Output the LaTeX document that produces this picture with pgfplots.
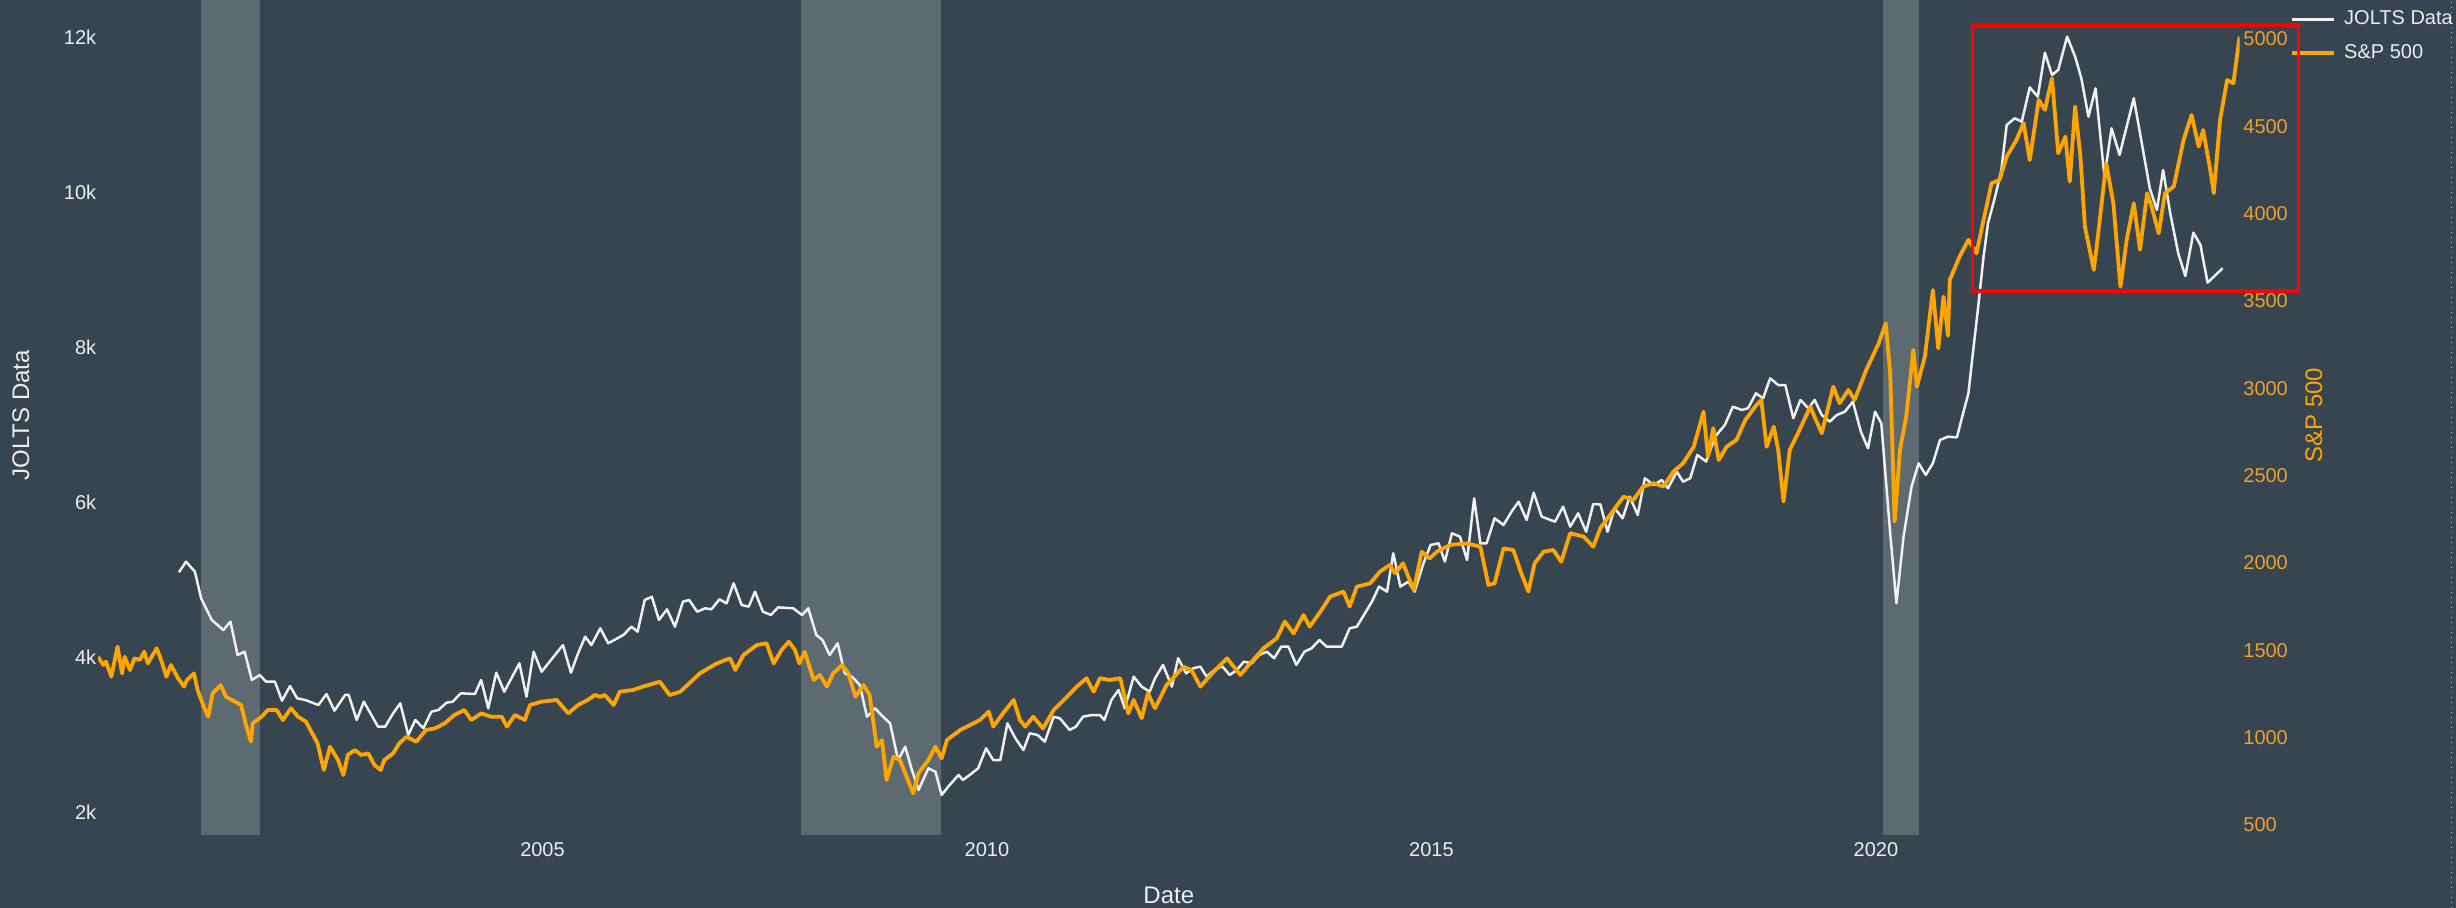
\documentclass[border=0pt]{standalone}
\usepackage{fontspec}
\setmainfont{Liberation Sans}
\usepackage{pgfplots}
\pgfplotsset{compat=1.18}
\usepackage{pgfplotstable}

\definecolor{bg}{RGB}{54,69,79}
\definecolor{rec}{RGB}{94,106,114}
\definecolor{joltsc}{RGB}{240,240,240}
\definecolor{spc}{RGB}{255,165,0}
\definecolor{sptick}{RGB}{236,160,40}
\definecolor{txt}{RGB}{235,238,242}
\definecolor{dotc}{RGB}{140,190,225}
\definecolor{redbox}{RGB}{255,0,0}

\pgfplotstableread{
year value
2000.91 5099
2000.99 5236
2001.09 5107
2001.16 4763
2001.28 4483
2001.41 4354
2001.49 4462
2001.57 4031
2001.65 4074
2001.73 3709
2001.82 3773
2001.89 3687
2001.99 3687
2002.07 3442
2002.16 3631
2002.24 3473
2002.33 3451
2002.48 3386
2002.57 3528
2002.66 3313
2002.78 3516
2002.82 3516
2002.91 3193
2002.99 3429
2003.15 3106
2003.23 3106
2003.32 3279
2003.40 3408
2003.49 2999
2003.57 3193
2003.66 3085
2003.75 3300
2003.83 3322
2003.92 3416
2003.99 3429
2004.08 3537
2004.24 3528
2004.31 3709
2004.39 3343
2004.48 3803
2004.57 3558
2004.74 3924
2004.82 3493
2004.90 4074
2004.99 3816
2005.08 3945
2005.23 4160
2005.32 3803
2005.40 4052
2005.48 4268
2005.55 4160
2005.65 4376
2005.74 4182
2005.91 4290
2006.00 4397
2006.07 4333
2006.15 4741
2006.23 4784
2006.31 4483
2006.40 4621
2006.49 4397
2006.58 4720
2006.65 4741
2006.74 4590
2006.83 4634
2006.90 4621
2006.99 4750
2007.07 4698
2007.15 4957
2007.24 4677
2007.32 4655
2007.39 4849
2007.48 4590
2007.57 4548
2007.65 4646
2007.82 4634
2007.92 4548
2007.99 4634
2008.08 4290
2008.15 4225
2008.23 4031
2008.32 4182
2008.40 3795
2008.48 3752
2008.57 3644
2008.65 3235
2008.74 3343
2008.83 3235
2008.91 3150
2009.00 2676
2009.08 2848
2009.15 2569
2009.23 2289
2009.34 2569
2009.42 2525
2009.49 2225
2009.58 2354
2009.68 2483
2009.73 2418
2009.83 2505
2009.90 2569
2009.99 2827
2010.07 2676
2010.15 2676
2010.23 3150
2010.32 2956
2010.41 2805
2010.48 3021
2010.57 2999
2010.65 2913
2010.75 3235
2010.82 3214
2010.93 3064
2011.00 3106
2011.08 3235
2011.18 3257
2011.27 3257
2011.32 3193
2011.40 3451
2011.48 3580
2011.55 3343
2011.65 3752
2011.74 3623
2011.83 3558
2011.89 3731
2011.98 3903
2012.08 3623
2012.15 3989
2012.24 3795
2012.32 3860
2012.40 3881
2012.47 3752
2012.58 3860
2012.65 3881
2012.73 3773
2012.81 3838
2012.89 3945
2012.98 3924
2013.06 4031
2013.15 4074
2013.23 3989
2013.31 4139
2013.39 4139
2013.48 3903
2013.57 4074
2013.65 4117
2013.74 4225
2013.82 4139
2013.99 4139
2014.08 4376
2014.16 4397
2014.24 4548
2014.33 4720
2014.41 4914
2014.50 4849
2014.57 5344
2014.65 4914
2014.74 4978
2014.81 4849
2014.91 5215
2014.99 5451
2015.08 5473
2015.15 5236
2015.23 5602
2015.32 5559
2015.40 5257
2015.48 6054
2015.55 5473
2015.62 5473
2015.71 5796
2015.81 5709
2015.90 5881
2015.98 6010
2016.07 5774
2016.15 6127
2016.24 5817
2016.39 5752
2016.48 5946
2016.56 5688
2016.65 5860
2016.74 5623
2016.82 5980
2016.90 5975
2016.98 5623
2017.06 5925
2017.15 5796
2017.23 6075
2017.32 5838
2017.40 6312
2017.50 6226
2017.59 6290
2017.66 6183
2017.76 6397
2017.83 6268
2017.91 6312
2017.99 6613
2018.09 6527
2018.19 6849
2018.30 7000
2018.39 7236
2018.49 7194
2018.56 7215
2018.65 7409
2018.73 7344
2018.81 7603
2018.90 7516
2018.98 7516
2019.07 7087
2019.15 7323
2019.24 7215
2019.31 7323
2019.39 7129
2019.48 7043
2019.56 7129
2019.65 7172
2019.74 7301
2019.83 6914
2019.91 6699
2019.99 7172
2020.06 7022
2020.16 5602
2020.23 4699
2020.31 5559
2020.40 6204
2020.48 6506
2020.56 6355
2020.64 6506
2020.72 6806
2020.81 6849
2020.91 6840
2020.98 7151
2021.04 7409
2021.09 7925
2021.15 8527
2021.21 9172
2021.26 9603
2021.34 9947
2021.41 10291
2021.47 10871
2021.56 10958
2021.64 10915
2021.73 11358
2021.82 11237
2021.90 11805
2021.98 11517
2022.05 11582
2022.15 12012
2022.24 11754
2022.31 11475
2022.39 10979
2022.47 11345
2022.57 10205
2022.65 10829
2022.74 10485
2022.90 11217
2022.99 10636
2023.08 10055
2023.16 9775
2023.23 10291
2023.31 9733
2023.40 9216
2023.48 8923
2023.57 9482
2023.65 9324
2023.73 8837
2023.90 9023
}\joltsdata

\pgfplotstableread{
year value
2000.00 1463
2000.06 1416
2000.09 1435
2000.15 1349
2000.22 1521
2000.27 1368
2000.30 1463
2000.36 1387
2000.41 1454
2000.47 1445
2000.52 1492
2000.56 1425
2000.66 1511
2000.71 1445
2000.77 1349
2000.82 1416
2000.90 1340
2000.97 1292
2001.00 1330
2001.08 1368
2001.12 1273
2001.19 1177
2001.24 1120
2001.29 1254
2001.38 1301
2001.44 1234
2001.54 1206
2001.61 1187
2001.67 1063
2001.72 977
2001.74 1082
2001.84 1120
2001.91 1158
2002.01 1158
2002.08 1101
2002.17 1168
2002.25 1120
2002.34 1091
2002.40 1034
2002.47 968
2002.54 815
2002.61 948
2002.70 872
2002.76 786
2002.81 901
2002.89 929
2002.96 901
2003.04 910
2003.11 843
2003.18 815
2003.22 872
2003.32 910
2003.39 968
2003.47 1005
2003.58 977
2003.69 1044
2003.79 1053
2003.90 1082
2004.01 1130
2004.12 1158
2004.20 1101
2004.31 1139
2004.42 1120
2004.54 1120
2004.60 1063
2004.69 1130
2004.80 1101
2004.86 1187
2004.99 1206
2005.16 1216
2005.29 1139
2005.40 1187
2005.51 1216
2005.59 1244
2005.65 1234
2005.70 1244
2005.80 1187
2005.87 1263
2006.02 1273
2006.13 1292
2006.32 1320
2006.43 1244
2006.55 1263
2006.77 1368
2006.96 1425
2007.11 1454
2007.17 1387
2007.26 1473
2007.41 1530
2007.52 1540
2007.60 1425
2007.69 1502
2007.77 1549
2007.84 1502
2007.89 1425
2007.95 1492
2008.05 1330
2008.12 1359
2008.20 1292
2008.27 1368
2008.37 1416
2008.44 1368
2008.52 1234
2008.61 1301
2008.68 1244
2008.76 948
2008.82 985
2008.87 758
2008.95 891
2009.02 872
2009.08 796
2009.17 681
2009.23 796
2009.34 872
2009.42 948
2009.49 882
2009.55 987
2009.70 1044
2009.81 1072
2009.92 1101
2010.02 1149
2010.07 1063
2010.18 1139
2010.30 1216
2010.37 1101
2010.43 1063
2010.52 1120
2010.63 1053
2010.75 1158
2010.90 1234
2011.01 1292
2011.12 1340
2011.20 1263
2011.27 1340
2011.38 1330
2011.50 1340
2011.59 1139
2011.65 1216
2011.74 1111
2011.81 1254
2011.89 1168
2012.02 1301
2012.21 1406
2012.30 1387
2012.40 1292
2012.55 1378
2012.70 1454
2012.85 1359
2012.96 1425
2013.11 1511
2013.26 1569
2013.35 1664
2013.45 1597
2013.56 1702
2013.63 1635
2013.75 1721
2013.86 1807
2014.01 1836
2014.08 1750
2014.16 1864
2014.31 1883
2014.42 1950
2014.53 1988
2014.59 1941
2014.68 1998
2014.80 1845
2014.89 2064
2014.98 2026
2015.06 2064
2015.21 2103
2015.40 2112
2015.55 2093
2015.64 1874
2015.71 1883
2015.81 2083
2015.92 2074
2016.01 1941
2016.09 1836
2016.16 1998
2016.26 2064
2016.37 2074
2016.46 2007
2016.56 2170
2016.71 2151
2016.82 2093
2016.90 2200
2017.05 2303
2017.16 2379
2017.27 2360
2017.38 2437
2017.50 2456
2017.61 2437
2017.72 2522
2017.83 2570
2017.95 2665
2018.06 2866
2018.11 2608
2018.17 2771
2018.23 2589
2018.32 2665
2018.43 2704
2018.53 2818
2018.64 2894
2018.71 2933
2018.77 2665
2018.85 2780
2018.90 2647
2018.96 2351
2019.03 2647
2019.14 2761
2019.26 2894
2019.39 2742
2019.52 3009
2019.59 2914
2019.69 2990
2019.76 2933
2019.89 3104
2020.03 3257
2020.11 3372
2020.16 3086
2020.21 2236
2020.27 2647
2020.34 2837
2020.42 3219
2020.46 3009
2020.55 3181
2020.64 3562
2020.70 3228
2020.76 3524
2020.81 3300
2020.83 3620
2020.94 3753
2021.04 3849
2021.13 3772
2021.21 3963
2021.30 4173
2021.39 4192
2021.47 4325
2021.58 4421
2021.66 4517
2021.73 4306
2021.83 4650
2021.90 4593
2021.98 4774
2022.05 4345
2022.13 4440
2022.18 4182
2022.24 4612
2022.30 4325
2022.35 3925
2022.45 3677
2022.50 3887
2022.59 4288
2022.67 4059
2022.75 3581
2022.82 3849
2022.90 4059
2022.97 3792
2023.05 4116
2023.10 4040
2023.18 3887
2023.25 4116
2023.35 4154
2023.46 4421
2023.55 4564
2023.63 4383
2023.68 4478
2023.76 4249
2023.80 4116
2023.87 4535
2023.95 4764
2024.02 4745
2024.09 5012
}\spdata

\pgfplotsset{
  basestyle/.style={
    at={(49pt,36.25pt)}, anchor=south west,
    scale only axis, width=1070.8pt, height=417.75pt,
    xmin=2000, xmax=2024.09,
    axis line style={draw=none},
    tick style={draw=none}, major tick length=0pt,
    /pgf/number format/assume math mode=true,
    tick label style={font=\fontsize{10}{12}\selectfont},
    label style={font=\fontsize{12}{14}\selectfont},
  }
}

\begin{document}
\begin{tikzpicture}
\fill[bg] (0,0) rectangle (1228pt,454pt);
\useasboundingbox (0,0) rectangle (1228pt,454pt);

\begin{axis}[basestyle,
  ymin=1702, ymax=12485,
  xtick={2005,2010,2015,2020}, xticklabels={2005,2010,2015,2020},
  xticklabel style={text=txt, anchor=north, inner sep=0pt, yshift=-3.25pt},
  ytick={2000,4000,6000,8000,10000,12000}, yticklabels={2k,4k,6k,8k,10k,12k},
  yticklabel style={text=txt, anchor=east, inner sep=0pt, xshift=-0.7pt},
  xlabel={Date}, xlabel style={at={(axis description cs:0.5,-0.0712)}, anchor=center, text=txt},
  ylabel={JOLTS Data}, ylabel style={at={(axis description cs:-0.036,0.503)}, anchor=center, text=txt},
]
\addplot[fill=rec, draw=none, forget plot] coordinates {(2001.155,1702) (2001.155,12485) (2001.826,12485) (2001.826,1702)} --cycle;
\addplot[fill=rec, draw=none, forget plot] coordinates {(2007.908,1702) (2007.908,12485) (2009.479,12485) (2009.479,1702)} --cycle;
\addplot[fill=rec, draw=none, forget plot] coordinates {(2020.075,1702) (2020.075,12485) (2020.487,12485) (2020.487,1702)} --cycle;
\addplot[joltsc, line width=1.25pt, line join=round] table[x=year,y=value]{\joltsdata};
\end{axis}

\begin{axis}[basestyle,
  ymin=440, ymax=5222,
  axis x line=none, axis y line*=right,
  ytick={500,1000,1500,2000,2500,3000,3500,4000,4500,5000},
  yticklabels={500,1000,1500,2000,2500,3000,3500,4000,4500,5000},
  yticklabel style={text=sptick, anchor=west, inner sep=0pt, xshift=1.7pt},
  ylabel={S\&P 500}, ylabel style={at={(axis description cs:1.0347,0.503)}, anchor=center, text=spc},
  legend style={at={(axis description cs:1.02354,0.98779)}, anchor=north west,
    draw=none, fill=none, inner sep=0pt, /tikz/column sep=4pt, /tikz/row sep=8.6pt,
    nodes={inner sep=0pt, text=txt}, font=\fontsize{10}{12}\selectfont},
  legend cell align=left,
  legend image code/.code={\draw[#1] (0pt,0pt) -- (21pt,0pt);},
]
\addlegendimage{joltsc, line width=1.5pt}
\addlegendentry{JOLTS Data}
\addplot[spc, line width=1.9pt, line join=round] table[x=year,y=value]{\spdata};
\addlegendentry{S\&P 500}
\end{axis}

\draw[redbox, line width=1.65pt] (986.15pt,308.5pt) rectangle (1149.15pt,441.5pt);
\draw[dotc, line width=0.5pt, dotted] (1225.85pt,0pt) -- (1225.85pt,454pt);
\end{tikzpicture}
\end{document}
